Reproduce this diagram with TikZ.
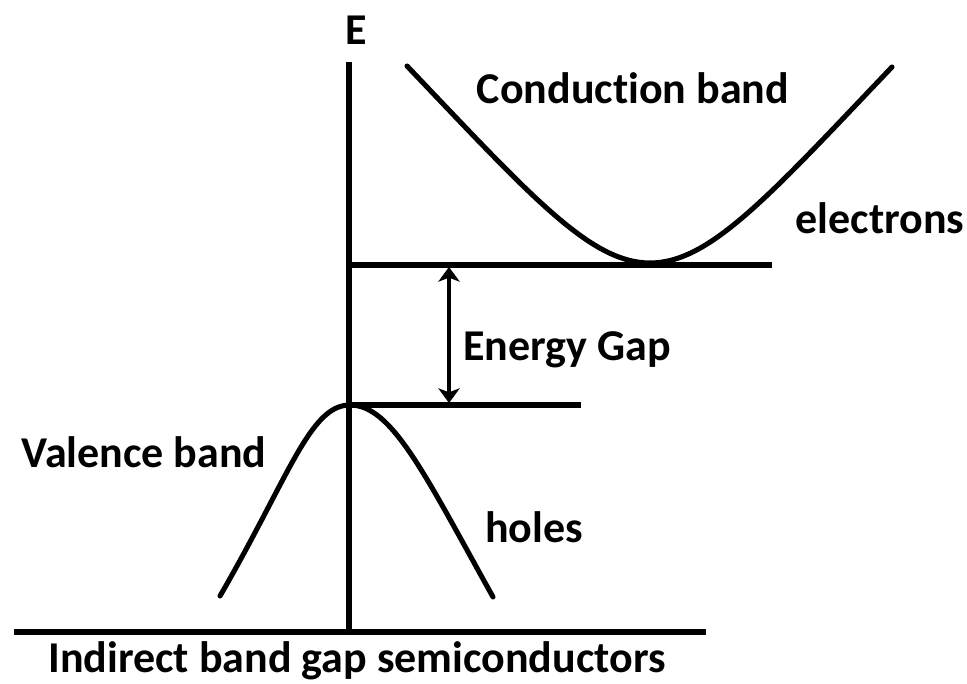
\documentclass[tikz,border=0pt]{standalone}
\usepackage{fontspec}
\setmainfont[Ligatures=NoCommon]{Carlito}
\usetikzlibrary{arrows.meta}
\begin{document}
\begin{tikzpicture}[x=0.75pt,y=-0.75pt,
  band/.style={line width=3.8pt,line cap=round},
  lbl/.style={font=\bfseries\fontsize{33}{38}\selectfont,inner sep=0pt}]
\useasboundingbox (0,0) rectangle (967,684);
% axis
\coordinate (atop) at (349,62);
\coordinate (abot) at (349,632);
\draw[line width=3.8pt] (atop) -- (abot);
\coordinate (bl) at (14,632);
\coordinate (br) at (706,632);
\draw[line width=3.8pt] (bl) -- (br);
% levels
\coordinate (cbl) at (349,265);
\coordinate (cbr) at (772,265);
\draw[line width=3.8pt] (cbl) -- (cbr);
\coordinate (vbl) at (349,405);
\coordinate (vbr) at (581,405);
\draw[line width=3.8pt] (vbl) -- (vbr);
% conduction band
\draw[band] (407,66) .. controls (530,195) and (590,263) .. (650,263)
            .. controls (710,263) and (770,195) .. (892,67);
% valence band
\draw[band] (220,596) .. controls (290,475) and (310,405) .. (350,405)
            .. controls (392,405) and (425,475) .. (493,597);
% gap arrow
\coordinate (ga) at (449,267);
\coordinate (gb) at (449,403);
\draw[line width=3.6pt,{Stealth[length=11pt,width=16pt,inset=3pt]}-{Stealth[length=11pt,width=16pt,inset=3pt]}] (ga) -- (gb);
% small mark
\fill (346,277) rectangle (352,287);
% labels
\node[lbl] (E) at (356,30) {E};
\node[lbl] (cb) at (633,88) {Conduction band};
\node[lbl] (el) at (880,218) {electrons};
\node[lbl] (eg) at (567,350) {Energy Gap};
\node[lbl] (vb) at (144,452) {Valence band};
\node[lbl] (ho) at (534,527) {holes};
\node[lbl] (ti) at (357,661) {Indirect band gap semiconductors};
\end{tikzpicture}
\end{document}
